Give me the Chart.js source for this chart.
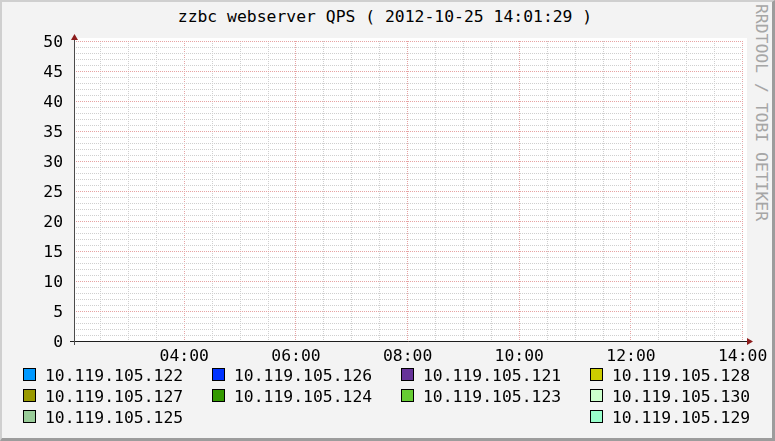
<!DOCTYPE html>
<html><head><meta charset="utf-8">
<script src="https://cdn.jsdelivr.net/npm/chart.js@4/dist/chart.umd.min.js"></script>
<style>
html,body{margin:0;padding:0;background:#f3f3f3;}
#wrap{position:relative;width:775px;height:441px;background:#f3f3f3;overflow:hidden;font-family:"DejaVu Sans Mono",monospace;font-size:16.4px;color:#000;}
#frame{position:absolute;left:0;top:0;width:775px;height:441px;box-sizing:border-box;border-left:2px solid #cfcfcf;border-top:2px solid #cfcfcf;border-right:3px solid #9c9c9c;border-bottom:3px solid #9c9c9c;}
canvas{position:absolute;left:0;top:0;}
#title{position:absolute;left:0;top:9px;width:770px;text-align:center;line-height:16.4px;white-space:pre;}
#wm{position:absolute;left:769px;top:3.5px;line-height:16.4px;white-space:pre;color:#a6a6a6;transform:rotate(90deg);transform-origin:0 0;}
.lg{position:absolute;line-height:16.4px;white-space:pre;}
.sq{position:absolute;width:13px;height:13px;box-sizing:border-box;border:1px solid #000;}
</style>
</head><body>
<div id="wrap">
  <div id="frame"></div>
  <div id="title"></div>
  <div id="wm"></div>
  <canvas id="c" width="775" height="441"></canvas>
</div>
<script>
// ---- data ----
const chartTitle = "zzbc webserver QPS ( 2012-10-25 14:01:29 )";
const watermark = "RRDTOOL / TOBI OETIKER";
const seriesNames = ["10.119.105.122","10.119.105.126","10.119.105.121","10.119.105.128","10.119.105.127","10.119.105.124","10.119.105.123","10.119.105.130","10.119.105.125","10.119.105.129"];
const seriesColors = ["#0099ff","#0033ff","#663399","#cccc00","#999900","#339900","#66cc33","#ccffcc","#99cc99","#99ffcc"];
// sample times in hours of day (02:01:29 .. 14:01:29)
const sampleHours = [2.0247, 3, 4, 5, 6, 7, 8, 9, 10, 11, 12, 13, 14.0247];
const qps122 = [0,0,0,0,0,0,0,0,0,0,0,0,0];
const qps126 = [0,0,0,0,0,0,0,0,0,0,0,0,0];
const qps121 = [0,0,0,0,0,0,0,0,0,0,0,0,0];
const qps128 = [0,0,0,0,0,0,0,0,0,0,0,0,0];
const qps127 = [0,0,0,0,0,0,0,0,0,0,0,0,0];
const qps124 = [0,0,0,0,0,0,0,0,0,0,0,0,0];
const qps123 = [0,0,0,0,0,0,0,0,0,0,0,0,0];
const qps130 = [0,0,0,0,0,0,0,0,0,0,0,0,0];
const qps125 = [0,0,0,0,0,0,0,0,0,0,0,0,0];
const qps129 = [0,0,0,0,0,0,0,0,0,0,0,0,0];
const seriesValues = [qps122,qps126,qps121,qps128,qps127,qps124,qps123,qps130,qps125,qps129];
const xStart = 2.0247, xEnd = 14.0247;
const yMin = 0, yMax = 50;
const xTickLabels = ["04:00","06:00","08:00","10:00","12:00","14:00"];

// ---- text ----
document.getElementById('title').textContent = chartTitle;
document.getElementById('wm').textContent = watermark;

// ---- legend (rrdtool style, justified rows) ----
const wrap = document.getElementById('wrap');
const cols = 4, colX0 = 23, colStep = 189, base0 = 381.5, rowStep = 21;
seriesNames.forEach((name, i) => {
  const row = Math.floor(i / cols);
  let col = i % cols;
  const inRow = Math.min(cols, seriesNames.length - row * cols);
  if (inRow < cols && inRow > 1 && col === inRow - 1) col = cols - 1;
  const base = base0 + row * rowStep;
  const sq = document.createElement('div');
  sq.className = 'sq';
  sq.style.left = (colX0 + col * colStep) + 'px';
  sq.style.top = Math.round(base - 13.5) + 'px';
  sq.style.background = seriesColors[i];
  wrap.appendChild(sq);
  const t = document.createElement('div');
  t.className = 'lg';
  t.textContent = name;
  t.style.left = (colX0 + col * colStep + 22) + 'px';
  t.style.top = (base - 13.9) + 'px';
  wrap.appendChild(t);
});

// ---- chart ----
const MONO = "'DejaVu Sans Mono', monospace";
const minorGrid = '#cfcfcf', majorGrid = '#e7a3a3';
const rrdPlugin = {
  id: 'rrd',
  beforeDraw(chart) {
    const a = chart.chartArea, ctx = chart.ctx;
    const L = Math.round(a.left), T = Math.round(a.top), R = Math.round(a.right), B = Math.round(a.bottom);
    ctx.save();
    ctx.fillStyle = '#ffffff';
    ctx.fillRect(L, T - 3, R - L + 3, B - T + 3);
    ctx.restore();
  },
  afterDraw(chart) {
    const a = chart.chartArea, ctx = chart.ctx;
    const L = Math.round(a.left), T = Math.round(a.top), R = Math.round(a.right), B = Math.round(a.bottom);
    ctx.save();
    ctx.lineWidth = 1;
    ctx.strokeStyle = '#1e1e1e';
    ctx.beginPath();
    ctx.moveTo(L - 4, B + 0.5);
    ctx.lineTo(R + 3, B + 0.5);
    ctx.stroke();
    ctx.strokeStyle = '#4a4a4a';
    ctx.beginPath();
    ctx.moveTo(L + 0.5, B + 4);
    ctx.lineTo(L + 0.5, T - 4);
    ctx.stroke();
    ctx.fillStyle = '#8c1c1c';
    ctx.beginPath();
    ctx.moveTo(L + 0.5, T - 7);
    ctx.lineTo(L - 3, T - 1);
    ctx.lineTo(L + 4, T - 1);
    ctx.closePath(); ctx.fill();
    ctx.beginPath();
    ctx.moveTo(R + 9, B + 0.5);
    ctx.lineTo(R + 3, B - 3);
    ctx.lineTo(R + 3, B + 4);
    ctx.closePath(); ctx.fill();
    ctx.restore();
  }
};
const pad2 = n => (n < 10 ? '0' : '') + n;

new Chart(document.getElementById('c'), {
  type: 'line',
  data: {
    datasets: seriesNames.map((name, i) => ({
      label: name,
      data: sampleHours.map((h, j) => ({x: h, y: seriesValues[i][j]})),
      borderColor: seriesColors[i],
      backgroundColor: seriesColors[i],
      borderWidth: 0,
      pointRadius: 0,
      fill: 'origin'
    }))
  },
  options: {
    responsive: false, animation: false, devicePixelRatio: 1,
    layout: {padding: {left: 0, top: 41.001, right: 31, bottom: 0}},
    plugins: {legend: {display: false}, title: {display: false}, tooltip: {enabled: false}},
    scales: {
      x: {
        type: 'linear', min: xStart, max: xEnd,
        afterBuildTicks(s) { const t = []; for (let h = 2.5; h <= 14.0001; h += 0.5) t.push({value: h}); s.ticks = t; },
        afterFit(s) { s.height = 100; },
        ticks: {
          autoSkip: false, maxRotation: 0, minRotation: 0, padding: 6,
          color: '#000', font: {family: MONO, size: 16.4},
          callback(v) { const lbl = pad2(v) + ':00'; return (Number.isInteger(v) && xTickLabels.includes(lbl)) ? lbl : ''; }
        },
        grid: {drawTicks: false, lineWidth: 1,
          color: c => (c.tick && Number.isInteger(c.tick.value) && c.tick.value % 2 === 0) ? majorGrid : minorGrid},
        border: {display: false, dash: [1, 1]}
      },
      y: {
        type: 'linear', min: yMin, max: yMax,
        afterBuildTicks(s) { const t = []; for (let v = yMin; v <= yMax; v++) t.push({value: v}); s.ticks = t; },
        afterFit(s) { s.width = 74; },
        ticks: {autoSkip: false, padding: 11, labelOffset: 2, color: '#000', font: {family: MONO, size: 16.4},
          callback(v) { return v % 5 === 0 ? String(v) : ''; }},
        grid: {drawTicks: false, lineWidth: 1, color: c => (c.tick && c.tick.value % 5 === 0) ? majorGrid : minorGrid},
        border: {display: false, dash: [1, 1]}
      }
    }
  },
  plugins: [rrdPlugin]
});
</script>
</body></html>
